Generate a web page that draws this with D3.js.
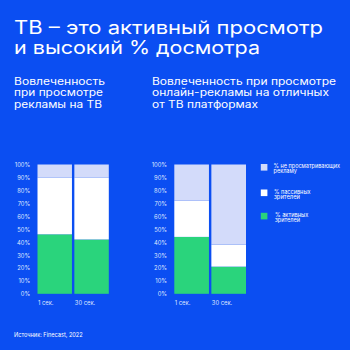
<!DOCTYPE html>
<html><head><meta charset="utf-8">
<script src="https://cdn.jsdelivr.net/npm/d3@7"></script>
<style>
html,body{margin:0;padding:0;background:#0b4ef2;}
svg{display:block;font-family:Inter, "DejaVu Sans", sans-serif;}
</style></head>
<body><svg id="c" width="350" height="350"></svg>
<script>
const categories = ["1 сек.", "30 сек."];
const seriesNames = ["% активных зрителей", "% пассивных зрителей", "% не просматривающих рекламу"];
const tvActive = [46, 42];
const tvPassive = [44, 48];
const tvNotWatching = [10, 10];
const onlineActive = [44, 21];
const onlinePassive = [28, 17];
const onlineNotWatching = [28, 62];
const tickValues = [0,10,20,30,40,50,60,70,80,90,100];
const colors = ["#2ad47c", "#ffffff", "#d3dbfa"];

const svg = d3.select("#c");
const bg = "#0b4ef2";
svg.append("rect").attr("width",350).attr("height",350).attr("fill",bg);

function line(x, y, txt, size, width, fill){
  svg.append("text").attr("x",x).attr("y",y).attr("fill",fill||"#fff").attr("font-size",size)
    .attr("textLength",width).attr("lengthAdjust","spacingAndGlyphs").text(txt);
}
// titles
line(14, 33.5, "ТВ – это активный просмотр", 18.3, 309);
line(14, 54, "и высокий % досмотра", 18.3, 246);

line(14, 84.5, "Вовлеченность", 10, 91);
line(14, 96.3, "при просмотре", 10, 89);
line(14, 108, "рекламы на ТВ", 10, 88);
line(152, 84.5, "Вовлеченность при просмотре", 10, 184);
line(152, 96.3, "онлайн-рекламы на отличных", 10, 177);
line(152, 108, "от ТВ платформах", 10, 106);

const y = d3.scaleLinear().domain([0,100]).range([293.8,164.5]);

function chart(x0, x1, active, passive, notw){
  const x = d3.scaleBand().domain(categories).range([x0,x1]).paddingInner(0.065);
  const data = categories.map((c,i)=>({cat:c, a:active[i], p:passive[i], n:notw[i]}));
  const stack = d3.stack().keys(["a","p","n"])(data);
  const g = svg.append("g");
  stack.forEach((s,si)=>{
    g.selectAll(null).data(s).enter().append("rect")
      .attr("x",d=>x(d.data.cat)).attr("width",x.bandwidth())
      .attr("y",d=>y(d[1])).attr("height",d=>y(d[0])-y(d[1]))
      .attr("fill",colors[si]);
  });
  const ax = svg.append("g").attr("transform",`translate(${x0-7.3},0)`)
    .call(d3.axisLeft(y).tickValues(tickValues).tickFormat(d=>d+"%").tickSize(0).tickPadding(0));
  ax.select(".domain").remove();
  ax.selectAll("text").attr("fill","#dfe6ff").attr("font-size",5.8).attr("font-family","Inter, sans-serif")
    .attr("dy","0.35em");
  const xa = svg.append("g").attr("transform","translate(0,301)")
    .call(d3.axisBottom(x).tickSize(0).tickPadding(0));
  xa.select(".domain").remove();
  xa.selectAll("text").attr("fill","#dfe6ff").attr("font-size",5.8).attr("font-family","Inter, sans-serif")
    .attr("text-anchor","start").attr("dy","0.71em")
    .attr("x",x.bandwidth()/-2 + 0.5);
}
chart(37.5, 108.8, tvActive, tvPassive, tvNotWatching);
chart(174.3, 246, onlineActive, onlinePassive, onlineNotWatching);

// legend
const legend = [
  {c:colors[2], lines:["% не просматривающих","рекламу"], w:[66.5,23.4], x:273.5, y:164},
  {c:colors[1], lines:["% пассивных","зрителей"], w:[36.5,26], x:274, y:189.5},
  {c:colors[0], lines:["% активных","зрителей"], w:[33.3,25], x:275, y:212.8}
];
legend.forEach(l=>{
  svg.append("rect").attr("x",260.8).attr("y",l.y).attr("width",6.6).attr("height",6.6).attr("fill",l.c);
  l.lines.forEach((s,i)=>line(l.x, l.y+4+i*5.3, s, 5.6, l.w[i]));
});

line(14, 337, "Источник: Finecast, 2022", 6.4, 68.7);
</script></body></html>
